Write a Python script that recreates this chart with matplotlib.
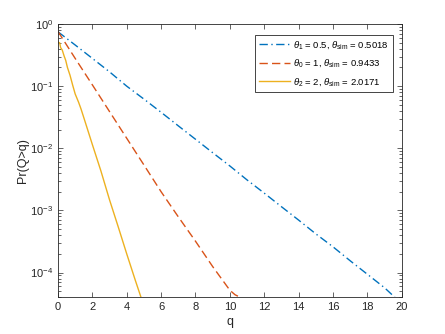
import matplotlib
matplotlib.use('Agg')
import matplotlib.pyplot as plt
from matplotlib.ticker import LogLocator, NullFormatter, NullLocator

plt.rcParams['font.family'] = ['Liberation Sans', 'DejaVu Sans']
plt.rcParams['mathtext.fontset'] = 'custom'
plt.rcParams['mathtext.rm'] = 'Liberation Sans'
plt.rcParams['mathtext.it'] = 'Liberation Sans:italic'

# values
q_blue = [0, 1, 2, 3, 4, 5, 6, 7, 8, 9, 10, 11, 12, 13, 14, 15, 16, 17, 18, 19, 19.6]
p_blue = [0.75, 0.46, 0.28, 0.17, 0.10, 0.062, 0.038, 0.023, 0.014, 0.0085, 0.0052,
          0.0031, 0.0019, 0.00115, 0.0007, 0.00042, 0.00026, 0.000155, 0.000094,
          0.000057, 0.00004]

q_red = [0, 1, 2, 3, 4, 5, 6, 7, 8, 9, 10, 10.3, 10.6]
p_red = [0.76, 0.28, 0.105, 0.039, 0.0145, 0.0054, 0.002, 0.00079, 0.00032,
         0.000125, 0.000052, 0.000044, 0.00004]

q_yel = [0, 0.1, 0.15, 0.25, 0.35, 0.45, 0.55, 0.7, 0.85, 1.0, 1.2, 1.34, 1.53,
         2.0, 2.5, 3.0, 3.5, 4.0, 4.5, 4.83]
p_yel = [0.51, 0.50, 0.42, 0.38, 0.31, 0.26, 0.20, 0.15, 0.105, 0.075, 0.055, 0.043,
         0.0295, 0.0115, 0.0043, 0.00148, 0.00055, 0.0002, 0.000075, 0.00004]

labels = [r'$\theta_1$ = 0.5, $\theta_{\rm sim}$ = 0.5018',
          r'$\theta_0$ = 1, $\theta_{\rm sim}$ = 0.9433',
          r'$\theta_2$ = 2, $\theta_{\rm sim}$ = 2.0171']

fig = plt.figure(figsize=(4.45, 3.34), dpi=100)
ax = fig.add_axes([0.1303, 0.1099, 0.7724, 0.8181])

ax.semilogy(q_blue, p_blue, color='#0072BD', lw=1.0, label=labels[0],
            dashes=(6, 2.5, 1, 2.5))
ax.semilogy(q_red, p_red, color='#D95319', lw=1.0, label=labels[1],
            dashes=(6, 3))
ax.semilogy(q_yel, p_yel, color='#EDB120', ls='-', lw=1.0, label=labels[2])

ax.set_xlim(0, 20)
ax.set_ylim(4e-5, 1)
ax.set_xticks(range(0, 21, 2))
ax.xaxis.set_minor_locator(NullLocator())
ax.yaxis.set_major_locator(LogLocator(base=10, numticks=10))
ax.yaxis.set_minor_locator(LogLocator(base=10, subs=range(2, 10), numticks=20))
ax.yaxis.set_minor_formatter(NullFormatter())

ax.tick_params(which='both', direction='in', top=True, right=True,
               colors='#262626', labelsize=8, width=0.5)
ax.tick_params(which='major', length=3.5)
ax.tick_params(which='minor', length=2)
for s in ax.spines.values():
    s.set_color('#262626')
    s.set_linewidth(0.6)

ax.set_xlabel('q', fontsize=9, color='#262626', labelpad=3)
ax.set_ylabel('Pr(Q>q)', fontsize=9, color='#262626', labelpad=1)

leg = ax.legend(loc='upper right', bbox_to_anchor=(0.9756, 0.96), borderaxespad=0,
                fontsize=6.8, fancybox=False, framealpha=1, edgecolor='#262626',
                handlelength=3.2, handletextpad=0.4, borderpad=0.45,
                labelspacing=0.65)
leg.get_frame().set_linewidth(0.6)

fig.savefig('out.png', dpi=100)
